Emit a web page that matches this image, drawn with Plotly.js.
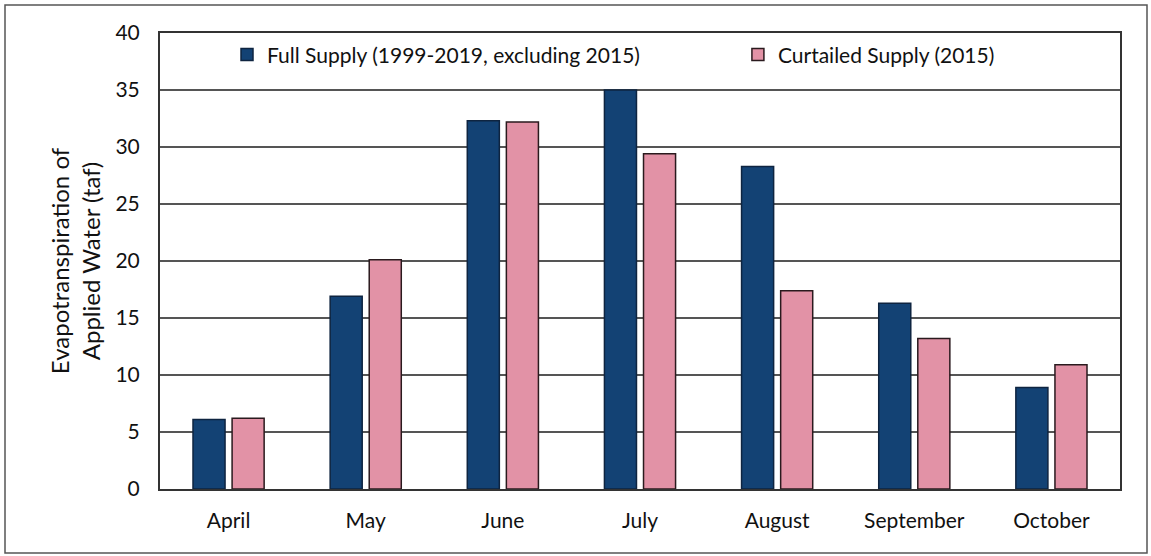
<!DOCTYPE html>
<html>
<head>
<meta charset="utf-8">
<script src="https://cdn.plot.ly/plotly-3.0.1.min.js"></script>
<style>
  html, body { margin: 0; padding: 0; background: #fff; }
  #chart { width: 1151px; height: 556px; }
</style>
</head>
<body>
<div id="chart"></div>
<script>
const months = ["April", "May", "June", "July", "August", "September", "October"];
const fullSupply = [6.1, 16.9, 32.3, 35.0, 28.3, 16.3, 8.9];
const curtailedSupply = [6.2, 20.1, 32.2, 29.4, 17.4, 13.2, 10.9];
const yTicks = [0, 5, 10, 15, 20, 25, 30, 35, 40];
const seriesNames = ["Full Supply (1999-2019, excluding 2015)", "Curtailed Supply (2015)"];

const FONT = "Lato, Open Sans, sans-serif";

const traces = [
  {
    type: "bar",
    name: seriesNames[0],
    x: months,
    y: fullSupply,
    legend: "legend",
    marker: { color: "#134274", line: { color: "#0e2440", width: 1.5 } }
  },
  {
    type: "bar",
    name: seriesNames[1],
    x: months,
    y: curtailedSupply,
    legend: "legend2",
    marker: { color: "#e292a6", line: { color: "#2a1a1e", width: 1.5 } }
  }
];

const legendCommon = {
  orientation: "h",
  xanchor: "left",
  y: 0.952,
  yanchor: "middle",
  bgcolor: "rgba(255,255,255,0)",
  font: { family: FONT, size: 21, color: "#111" }
};

const layout = {
  width: 1151,
  height: 556,
  margin: { l: 160, r: 31, t: 33, b: 67 },
  paper_bgcolor: "#ffffff",
  plot_bgcolor: "#ffffff",
  font: { family: FONT, size: 20, color: "#111" },
  barmode: "group",
  bargap: 0.43,
  bargroupgap: 0.18,
  showlegend: true,
  legend: Object.assign({ x: 0.0698 }, legendCommon),
  legend2: Object.assign({ x: 0.602 }, legendCommon),
  xaxis: {
    type: "category",
    showline: true,
    linecolor: "#333",
    linewidth: 2,
    mirror: true,
    showgrid: false,
    ticks: "",
    ticklabelstandoff: 12,
    tickfont: { family: FONT, size: 21, color: "#111" }
  },
  yaxis: {
    range: [0, 40],
    tickvals: yTicks,
    ticktext: yTicks.map(String),
    showline: true,
    linecolor: "#333",
    linewidth: 2,
    mirror: true,
    showgrid: true,
    gridcolor: "#555",
    gridwidth: 1.5,
    zeroline: false,
    ticks: "",
    ticklabelstandoff: 14,
    tickfont: { family: FONT, size: 21, color: "#111" },
    title: {
      text: "Evapotranspiration of<br>Applied Water (taf)",
      font: { family: FONT, size: 24, color: "#111" },
      standoff: 8
    }
  },
  shapes: [
    {
      type: "rect",
      xref: "paper", yref: "paper",
      x0: (5 - 160) / 960, x1: (1147 - 160) / 960,
      y0: (489 - 553) / 456, y1: (489 - 5) / 456,
      line: { color: "#555", width: 1.5 },
      fillcolor: "rgba(0,0,0,0)",
      layer: "below"
    }
  ]
};

Plotly.newPlot("chart", traces, layout, { displayModeBar: false, staticPlot: true });
</script>
</body>
</html>
